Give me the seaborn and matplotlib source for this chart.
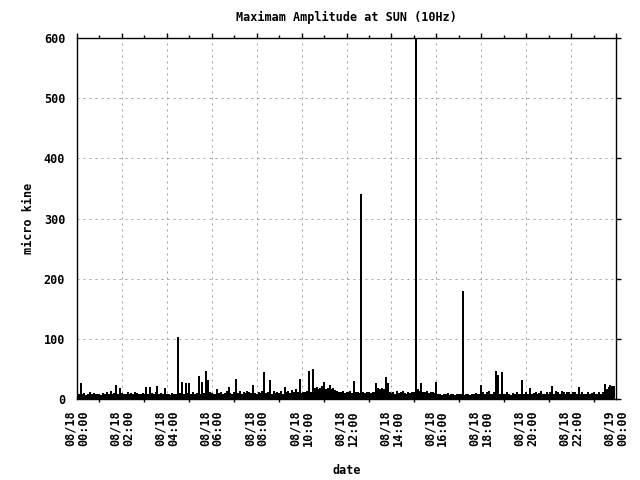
import numpy as np
import pandas as pd
import seaborn as sns
import matplotlib
matplotlib.use('Agg')
import matplotlib.pyplot as plt
import matplotlib.dates as mdates

sns.set_theme(style='white')
plt.rcParams['font.family'] = ['DejaVu Sans Mono']
plt.rcParams['font.weight'] = 'bold'

title = 'Maximam Amplitude at SUN (10Hz)'
x_label = 'date'
y_label = 'micro kine'
start_time = '2000-08-18 00:00'
end_time = '2000-08-19 00:00'
step = '5min'
y_ticks = [0, 100, 200, 300, 400, 500, 600]

# 最大振幅, 5分ごと (1行 = 1時間)
amp = [
    13, 9, 27, 8, 10, 7, 9, 12, 8, 10, 9, 8,
    9, 7, 10, 8, 12, 9, 13, 8, 10, 23, 9, 19,
    10, 8, 9, 11, 8, 10, 9, 11, 10, 8, 9, 10,
    8, 20, 9, 20, 10, 8, 12, 21, 9, 10, 8, 18,
    9, 8, 7, 10, 8, 9, 103, 10, 29, 9, 27, 10,
    26, 9, 12, 8, 10, 38, 9, 29, 10, 47, 31, 11,
    10, 9, 8, 16, 10, 12, 9, 10, 13, 20, 10, 9,
    11, 33, 10, 13, 9, 11, 10, 14, 11, 10, 23, 10,
    9, 11, 10, 13, 45, 10, 11, 32, 9, 13, 10, 11,
    10, 13, 9, 20, 11, 14, 10, 15, 11, 16, 12, 33,
    10, 12, 11, 14, 46, 12, 50, 18, 20, 16, 19, 21,
    28, 17, 19, 24, 16, 18, 15, 14, 12, 11, 13, 10,
    12, 11, 13, 10, 30, 11, 12, 10, 340, 11, 10, 12,
    11, 10, 12, 11, 26, 18, 17, 19, 16, 37, 26, 12,
    10, 11, 9, 13, 10, 11, 14, 10, 9, 11, 10, 12,
    11, 600, 17, 14, 26, 12, 11, 13, 10, 12, 11, 10,
    28, 9, 8, 7, 9, 8, 10, 7, 8, 9, 7, 8,
    9, 8, 180, 7, 9, 8, 7, 9, 8, 10, 9, 8,
    23, 12, 9, 11, 14, 9, 8, 11, 46, 40, 9, 45,
    9, 8, 11, 9, 7, 10, 8, 11, 9, 8, 32, 9,
    11, 9, 18, 8, 10, 11, 8, 10, 13, 9, 8, 11,
    9, 11, 21, 9, 13, 11, 9, 14, 11, 9, 12, 11,
    9, 11, 12, 9, 20, 8, 11, 9, 8, 11, 9, 10,
    11, 9, 8, 11, 9, 12, 25, 16, 20, 23, 22, 21,
]

times = pd.date_range(start_time, periods=len(amp), freq=step)
df = pd.DataFrame({'date': times, 'amp': amp})

fig = plt.figure(figsize=(6.4, 4.8), dpi=100)
ax = fig.add_axes([77/640, 81/480, 539/640, 361/480])

# gnuplot の impulses 風
ax.vlines(df['date'], 0, df['amp'], color='black', lw=1.3, antialiased=False, zorder=3)

ax.set_xlim(pd.Timestamp(start_time), pd.Timestamp(end_time))
ax.set_ylim(0, 600)
ax.set_yticks(y_ticks)
ax.xaxis.set_major_locator(mdates.HourLocator(byhour=range(0, 24, 2)))
ax.xaxis.set_minor_locator(mdates.HourLocator())
ax.xaxis.set_major_formatter(mdates.DateFormatter('%m/%d\n%H:%M'))

ax.grid(True, which='major', color='#a0a0a0', linestyle=(0, (2, 4)), lw=0.72)
for sp in ax.spines.values():
    sp.set_color('black')
    sp.set_linewidth(1.0)
    sp.set_visible(True)

ax.tick_params(which='major', direction='out', length=3.5, width=1, color='black',
               top=True, right=True, labelsize=8.5, labelcolor='black', pad=5)
ax.tick_params(which='minor', direction='out', length=2, width=1, color='black',
               top=True, bottom=True)
plt.setp(ax.get_xticklabels(), rotation=90, ha='center', va='top', linespacing=1.0)

ax.set_title(title, fontsize=8.5, pad=12, color='black', fontweight='bold')
ax.set_xlabel(x_label, fontsize=8.5, labelpad=13, color='black', fontweight='bold')
ax.set_ylabel(y_label, fontsize=8.5, labelpad=6, color='black', fontweight='bold')

fig.savefig('out.png', dpi=100)
